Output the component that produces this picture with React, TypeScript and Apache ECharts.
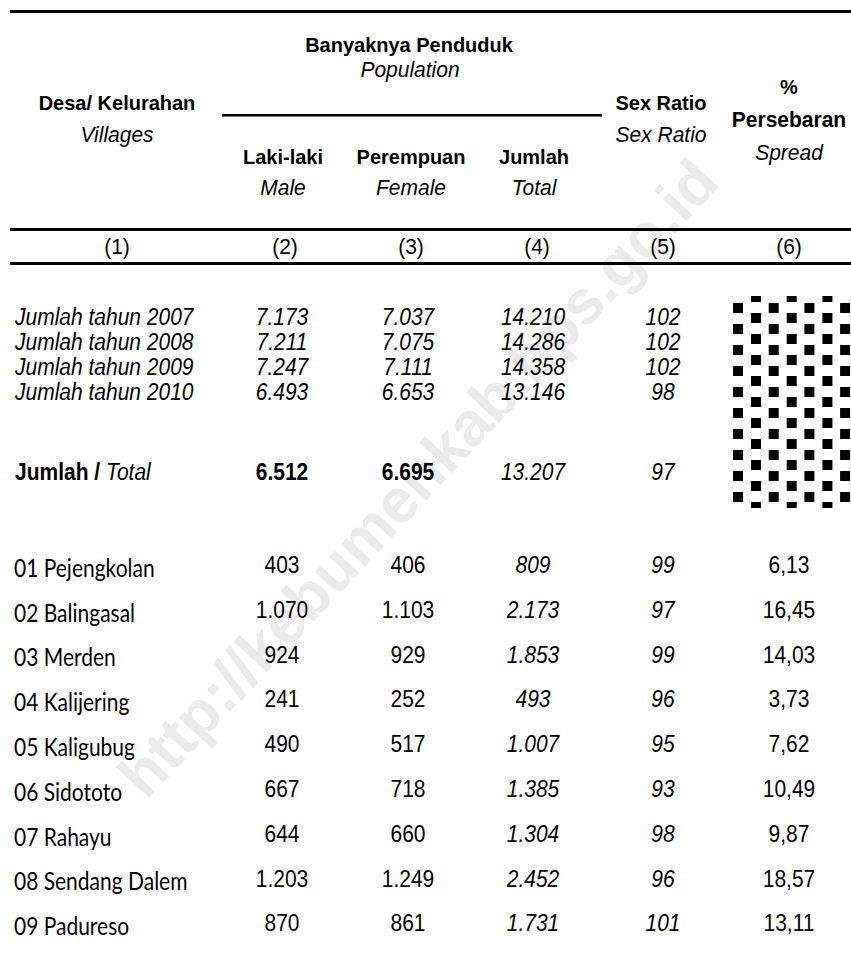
import React, { useEffect, useRef } from "react";
import * as echarts from "echarts";

// ---------- data ----------
const columnNumbers = ["(1)", "(2)", "(3)", "(4)", "(5)", "(6)"];

const yearLabels = ["Jumlah tahun 2007", "Jumlah tahun 2008", "Jumlah tahun 2009", "Jumlah tahun 2010"];
const yearMale = [7173, 7211, 7247, 6493];
const yearFemale = [7037, 7075, 7111, 6653];
const yearTotal = [14210, 14286, 14358, 13146];
const yearRatio = [102, 102, 102, 98];

const totalMale = 6512;
const totalFemale = 6695;
const totalTotal = 13207;
const totalRatio = 97;

const villages = [
  "01 Pejengkolan",
  "02 Balingasal",
  "03 Merden",
  "04 Kalijering",
  "05 Kaligubug",
  "06 Sidototo",
  "07 Rahayu",
  "08 Sendang Dalem",
  "09 Padureso",
];
const villageMale = [403, 1070, 924, 241, 490, 667, 644, 1203, 870];
const villageFemale = [406, 1103, 929, 252, 517, 718, 660, 1249, 861];
const villageTotal = [809, 2173, 1853, 493, 1007, 1385, 1304, 2452, 1731];
const villageRatio = [99, 97, 99, 96, 95, 93, 98, 96, 101];
const villageSpread = [6.13, 16.45, 14.03, 3.73, 7.62, 10.49, 9.87, 18.57, 13.11];

// ---------- layout ----------
const FONT = '"Liberation Sans", Arial, sans-serif';
const NAME_FONT = 'Lato, "Open Sans", sans-serif';
const FS = 21;
const HB = 20; // bold header size
const headCx = [117, 283, 411, 534, 661, 789];
const dataCx = [0, 282, 408, 533, 663, 789];
const leftX = 15;
const SY_DATA = 1.12;
const SY_HEAD = 1.04;
const SY_NAME = 1.18;

function fmtInt(n: number): string {
  return String(n).replace(/\B(?=(\d{3})+(?!\d))/g, ".");
}
function fmtDec(n: number): string {
  return n.toFixed(2).replace(".", ",");
}

type Opt = { bold?: boolean; italic?: boolean; align?: string; family?: string; size?: number; sy?: number };
function txt(text: string, x: number, y: number, o: Opt = {}) {
  const align = o.align || "center";
  return {
    type: "text",
    x,
    y,
    z: 10,
    scaleY: o.sy || SY_DATA,
    silent: true,
    style: {
      text,
      fill: "#000",
      fontFamily: o.family || FONT,
      fontSize: o.size || FS,
      fontWeight: o.bold ? "bold" : "normal",
      fontStyle: o.italic ? "italic" : "normal",
      align,
      textAlign: align,
      verticalAlign: "middle",
      textVerticalAlign: "middle",
    },
  };
}
function hline(x: number, y: number, w: number, h: number) {
  return { type: "rect", z: 10, silent: true, shape: { x, y, width: w, height: h }, style: { fill: "#000" } };
}

function buildElements() {
  const els: any[] = [];
  // watermark
  els.push({
    type: "text",
    x: 418,
    y: 478,
    z: 1,
    rotation: (47 * Math.PI) / 180,
    silent: true,
    style: {
      text: "http://kebumenkab.bps.go.id",
      fill: "#ebebeb",
      fontFamily: FONT,
      fontSize: 62,
      fontWeight: "bold",
      align: "center",
      textAlign: "center",
      verticalAlign: "middle",
      textVerticalAlign: "middle",
    },
  });

  // rules
  els.push(hline(10, 10, 841, 3));
  els.push(hline(222, 114, 380, 2.5));
  els.push(hline(10, 228, 841, 3));
  els.push(hline(10, 262, 841, 3));

  // header
  const hb = { bold: true, size: HB, sy: SY_HEAD };
  const hi = { italic: true, sy: SY_HEAD };
  els.push(txt("Banyaknya Penduduk", 409, 45, hb));
  els.push(txt("Population", 410, 70, hi));
  els.push(txt("Desa/ Kelurahan", headCx[0], 103, hb));
  els.push(txt("Villages", headCx[0], 135, hi));
  const subBold = ["Laki-laki", "Perempuan", "Jumlah"];
  const subIt = ["Male", "Female", "Total"];
  subBold.forEach((t, i) => els.push(txt(t, headCx[i + 1], 157, hb)));
  subIt.forEach((t, i) => els.push(txt(t, headCx[i + 1], 188, hi)));
  els.push(txt("Sex Ratio", headCx[4], 103, hb));
  els.push(txt("Sex Ratio", headCx[4], 135, hi));
  els.push(txt("%", headCx[5], 87, hb));
  els.push(txt("Persebaran", headCx[5], 120, { bold: true, size: 21, sy: SY_HEAD }));
  els.push(txt("Spread", headCx[5], 153, hi));
  const numCx = [117, 285, 411, 537, 663, 789];
  columnNumbers.forEach((t, i) => els.push(txt(t, numCx[i], 247, { sy: SY_HEAD })));

  // year rows
  yearLabels.forEach((lab, i) => {
    const y = 317 + i * 25;
    els.push(txt(lab, leftX, y, { italic: true, align: "left" }));
    els.push(txt(fmtInt(yearMale[i]), dataCx[1], y, { italic: true }));
    els.push(txt(fmtInt(yearFemale[i]), dataCx[2], y, { italic: true }));
    els.push(txt(fmtInt(yearTotal[i]), dataCx[3], y, { italic: true }));
    els.push(txt(String(yearRatio[i]), dataCx[4], y, { italic: true }));
  });

  // total row
  const ty = 472;
  els.push({
    type: "text",
    x: leftX,
    y: ty,
    z: 10,
    scaleY: SY_DATA,
    silent: true,
    style: {
      text: "{b|Jumlah} {b|/} {i|Total}",
      fill: "#000",
      align: "left",
      textAlign: "left",
      verticalAlign: "middle",
      textVerticalAlign: "middle",
      fontFamily: FONT,
      fontSize: FS,
      rich: {
        b: { fontFamily: FONT, fontSize: FS, fontWeight: "bold", fill: "#000" },
        i: { fontFamily: FONT, fontSize: FS, fontStyle: "italic", fill: "#000" },
      },
    },
  });
  els.push(txt(fmtInt(totalMale), dataCx[1], ty, { bold: true }));
  els.push(txt(fmtInt(totalFemale), dataCx[2], ty, { bold: true }));
  els.push(txt(fmtInt(totalTotal), dataCx[3], ty, { italic: true }));
  els.push(txt(String(totalRatio), dataCx[4], ty, { italic: true }));

  // hatch pattern in spread column for summary rows
  const cx0 = 732, cy0 = 296, cx1 = 851, cy1 = 508;
  const px = 35.7, py = 21;
  const sq = 10;
  const addSq = (x: number, y: number) => {
    const x0 = Math.max(x, cx0), y0 = Math.max(y, cy0);
    const x1 = Math.min(x + sq, cx1), y1 = Math.min(y + sq, cy1);
    if (x1 > x0 && y1 > y0) els.push(hline(x0, y0, x1 - x0, y1 - y0));
  };
  for (let j = -1; j < 12; j++) {
    for (let k = 0; k < 4; k++) {
      addSq(733 + k * px, 303 + j * py);
      addSq(751 + k * px, 292 + j * py);
    }
  }

  // village rows
  villages.forEach((name, i) => {
    const y = 565 + i * 44.8;
    els.push(txt(name, 14, y + 2, { align: "left", family: NAME_FONT, sy: SY_NAME }));
    els.push(txt(fmtInt(villageMale[i]), dataCx[1], y));
    els.push(txt(fmtInt(villageFemale[i]), dataCx[2], y));
    els.push(txt(fmtInt(villageTotal[i]), dataCx[3], y, { italic: true }));
    els.push(txt(String(villageRatio[i]), dataCx[4], y, { italic: true }));
    els.push(txt(fmtDec(villageSpread[i]), dataCx[5], y));
  });
  return els;
}

export default function App() {
  const ref = useRef<HTMLDivElement>(null);
  useEffect(() => {
    document.body.style.margin = "0";
    const chart = echarts.init(ref.current as HTMLDivElement, null, { renderer: "svg" });
    chart.setOption({
      animation: false,
      backgroundColor: "#ffffff",
      graphic: { elements: buildElements() },
    });
    return () => chart.dispose();
  }, []);
  return <div ref={ref} style={{ width: 851, height: 973 }} />;
}
